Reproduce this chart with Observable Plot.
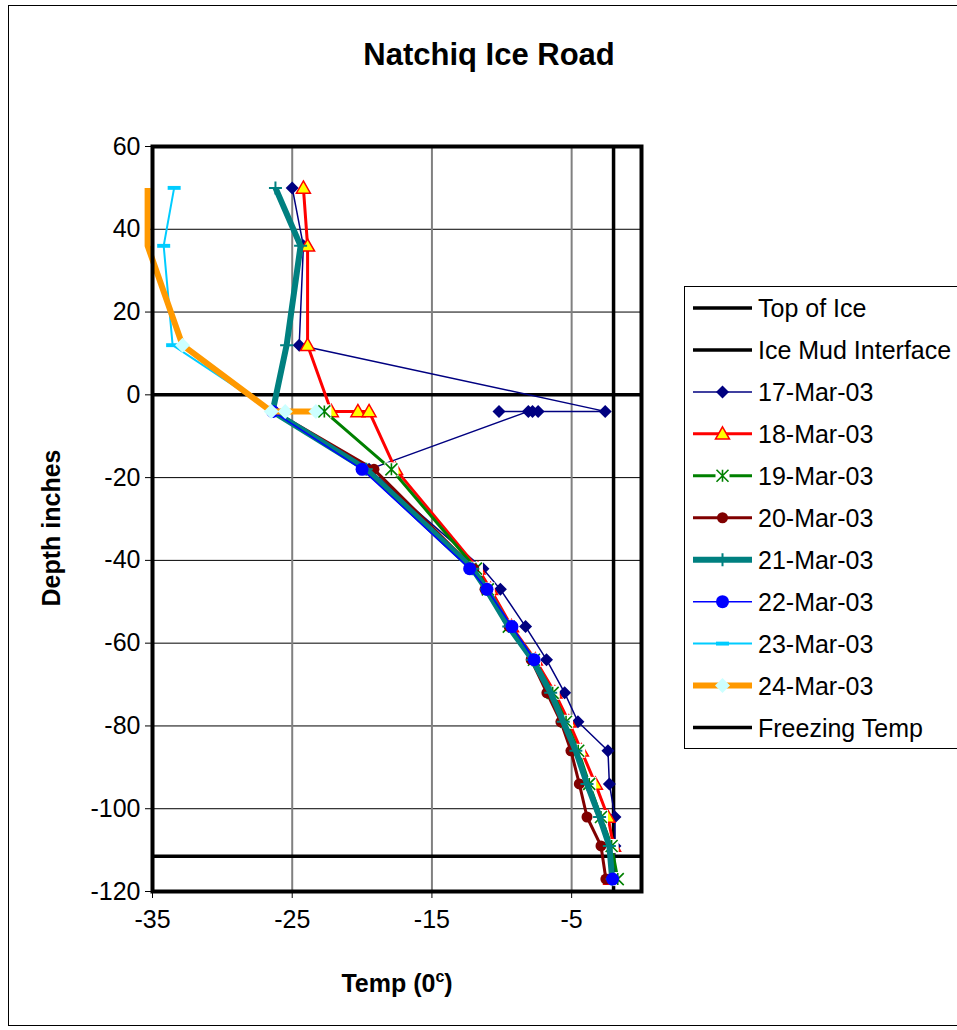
<!DOCTYPE html>
<html>
<head>
<meta charset="utf-8">
<script src="https://cdn.jsdelivr.net/npm/d3@7"></script>
<script src="https://cdn.jsdelivr.net/npm/@observablehq/plot@0.6"></script>
<style>
  body { margin: 0; background: #fff; }
  #wrap { position: relative; width: 957px; height: 1030px; overflow: hidden; background: #fff;
          font-family: Arial, "Liberation Sans", sans-serif; color: #000; }
  #outer { position: absolute; left: 8px; top: 5px; width: 1000px; height: 1021px; border: 1px solid #000; box-sizing: border-box; }
  #title { position: absolute; left: 0; width: 978px; top: 37px; text-align: center; font-weight: bold; font-size: 31px; }
  #ylab { position: absolute; left: 51px; top: 528px; transform: translate(-50%, -50%) rotate(-90deg); font-weight: bold; font-size: 25px; white-space: nowrap; }
  #xlab { position: absolute; left: 397px; top: 983px; transform: translate(-50%, -50%); font-weight: bold; font-size: 25px; white-space: nowrap; }
  #xlab sup { font-size: 16px; }
  #chart { position: absolute; left: 0; top: 0; }
  #legend { position: absolute; left: 0; top: 0; }
</style>
</head>
<body>
<div id="wrap">
  <div id="outer"></div>
  <div id="chart"></div>
  <div id="title">Natchiq Ice Road</div>
  <div id="ylab">Depth inches</div>
  <div id="xlab">Temp (0<sup>c</sup>)</div>
  <svg id="legend" width="957" height="1030"></svg>
</div>
<script>
// ---------------- data ----------------
const xTicks = [-35, -25, -15, -5];
const yTicks = [60, 40, 20, 0, -20, -40, -60, -80, -100, -120];
const gridDepths = [40, 20, -20, -40, -60, -80, -100];
const gridTemps = [-25, -15, -5];

const topOfIce = 0;            // depth, inches
const iceMudInterface = -111.5; // depth, inches
const freezingTemp = -2;       // deg C

const deep = [-18, -42, -47, -56, -64, -72, -79, -86, -94, -102, -109, -117];

const depth17 = [50, 36, 12, -4, -4, -4, -4, -4, ...deep];
const temp17  = [-25.0, -24.2, -24.5, -2.6, -7.4, -7.8, -10.2, -8.1, -19.5, -11.35, -10.1, -8.3, -6.8, -5.5, -4.55, -2.4, -2.3, -1.9, -1.9, -2.0];

const depth18 = [50, 36, 12, -4, -4, -4, ...deep];
const temp18  = [-24.2, -23.9, -23.9, -22.2, -20.3, -19.5, -17.6, -11.7, -10.8, -9.3, -7.6, -6.2, -5.2, -4.3, -3.3, -2.4, -2.0, -2.2];

const depth19 = [-4, ...deep];
const temp19  = [-22.7, -17.9, -11.85, -11.0, -9.5, -7.7, -6.36, -5.4, -4.53, -3.74, -2.9, -2.14, -1.7];

const depth20 = [-4, ...deep];
const temp20  = [-26.3, -19.15, -12.0, -11.2, -9.47, -7.9, -6.77, -5.77, -5.05, -4.45, -3.9, -2.9, -2.55];

const depth21 = [50, 36, 12, -4, ...deep];
const temp21  = [-26.2, -24.4, -25.4, -26.4, -19.7, -12.1, -11.1, -9.5, -7.8, -6.5, -5.6, -4.7, -3.9, -3.0, -2.3, -2.1];

const depth22 = [-4, ...deep];
const temp22  = [-26.4, -20.0, -12.3, -11.06, -9.27, -7.68, null, null, null, null, null, null, -2.07];

const depth23 = [50, 36, 12, -4, -4, -4];
const temp23  = [-33.45, -34.2, -33.56, -26.4, -24.2, -23.3];

const depth24 = [50, 36, 12, -4, -4, -4];
const temp24  = [-35.35, -35.35, -32.85, -26.5, -25.5, -23.3];

// ---------------- marker shapes ----------------
const sym = fn => ({ draw(c, size) { const h = Math.sqrt(size / Math.PI); fn(c, h); } });
const diamondS = sym((c, h) => { c.moveTo(0, -h); c.lineTo(h, 0); c.lineTo(0, h); c.lineTo(-h, 0); c.closePath(); });
const triS = sym((c, h) => { c.moveTo(0, -h); c.lineTo(h, h * 0.75); c.lineTo(-h, h * 0.75); c.closePath(); });
const starS = sym((c, h) => { c.moveTo(-h, -h); c.lineTo(h, h); c.moveTo(-h, h); c.lineTo(h, -h); c.moveTo(0, -h); c.lineTo(0, h); });
const plusS = sym((c, h) => { c.moveTo(-h, 0); c.lineTo(h, 0); c.moveTo(0, -h); c.lineTo(0, h); });
const dashS = sym((c, h) => { c.rect(-h, -h * 0.3, 2 * h, h * 0.6); });
const squareS = sym((c, h) => { c.rect(-h, -h, 2 * h, 2 * h); });
const circleS = sym((c, h) => { c.moveTo(h, 0); c.arc(0, 0, h, 0, 2 * Math.PI); });

const series = [
  {name: "17-Mar-03", depth: depth17, temp: temp17, color: "#000080", w: 1.5, sym: diamondS, r: 6.5, fill: "#000080", stroke: "none", sw: 0},
  {name: "18-Mar-03", depth: depth18, temp: temp18, color: "#FF0000", w: 3,   sym: triS,     r: 7,   fill: "#FFFF00", stroke: "#FF0000", sw: 1.5},
  {name: "19-Mar-03", depth: depth19, temp: temp19, color: "#008000", w: 3,   sym: starS,    r: 6,   fill: "none", stroke: "#008000", sw: 1.6, bg: 7},
  {name: "20-Mar-03", depth: depth20, temp: temp20, color: "#800000", w: 3,   sym: circleS,  r: 5.5, fill: "#800000", stroke: "none", sw: 0},
  {name: "21-Mar-03", depth: depth21, temp: temp21, color: "#008080", w: 6,   sym: plusS,    r: 6.5, fill: "none", stroke: "#008080", sw: 2},
  {name: "22-Mar-03", depth: depth22, temp: temp22, color: "#0000FF", w: 1.5, sym: circleS,  r: 6.5, fill: "#0000FF", stroke: "none", sw: 0},
  {name: "23-Mar-03", depth: depth23, temp: temp23, color: "#00CCFF", w: 2,   sym: dashS,    r: 6.5, fill: "#00CCFF", stroke: "none", sw: 0},
  {name: "24-Mar-03", depth: depth24, temp: temp24, color: "#FF9900", w: 6,   sym: diamondS, r: 7.5, fill: "#CCFFFF", stroke: "none", sw: 0}
];

// ---------------- chart ----------------
const refStyle = {stroke: "#000", strokeWidth: 3.5};
const marks = [
  Plot.gridY(gridDepths, {stroke: "#000", strokeOpacity: 1, strokeWidth: 1}),
  Plot.gridX(gridTemps, {stroke: "#808080", strokeOpacity: 1, strokeWidth: 2}),
  Plot.axisX(xTicks, {tickSize: 7, tickPadding: 12, fontSize: 25, label: null, tickFormat: d => `${d}`}),
  Plot.axisY(yTicks, {tickSize: 7, tickPadding: 5, fontSize: 25, label: null, tickFormat: d => `${d}`}),
  Plot.ruleY([topOfIce], refStyle),
  Plot.ruleY([iceMudInterface], refStyle),
  Plot.ruleX([freezingTemp], refStyle)
];

for (const s of series) {
  const data = s.depth.map((d, i) => ({d, t: s.temp[i]}));
  marks.push(Plot.line(data, {x: "t", y: "d", stroke: s.color, strokeWidth: s.w, strokeLinejoin: "round", strokeLinecap: "butt"}));
  const pts = data.filter(p => p.t != null && p.t >= -35);
  if (s.bg) marks.push(Plot.dot(pts, {x: "t", y: "d", symbol: squareS, r: s.bg, fill: "#fff", stroke: "none"}));
  marks.push(Plot.dot(pts, {x: "t", y: "d", symbol: s.sym, r: s.r, fill: s.fill, stroke: s.stroke, strokeWidth: s.sw}));
}
marks.push(Plot.frame({stroke: "#000", strokeWidth: 4}));

const chart = Plot.plot({
  width: 957,
  height: 1030,
  marginLeft: 152,
  marginRight: 316,
  marginTop: 146,
  marginBottom: 139,
  x: {domain: [-35, 0]},
  y: {domain: [-120, 60]},
  style: {fontFamily: "Arial, 'Liberation Sans', sans-serif", fontSize: "25px", color: "#000", background: "transparent", overflow: "visible"},
  marks
});
document.getElementById("chart").appendChild(chart);

// ---------------- legend ----------------
const lg = d3.select("#legend");
lg.append("rect").attr("x", 684.5).attr("y", 286.5).attr("width", 400).attr("height", 462)
  .attr("fill", "#fff").attr("stroke", "#000").attr("stroke-width", 1);
const entries = [
  {name: "Top of Ice", color: "#000", w: 3.5},
  {name: "Ice Mud Interface", color: "#000", w: 3.5},
  ...series,
  {name: "Freezing Temp", color: "#000", w: 3.5}
];
entries.forEach((e, i) => {
  const cy = 308 + i * 41.95;
  const g = lg.append("g");
  g.append("line").attr("x1", 693).attr("x2", 752).attr("y1", cy).attr("y2", cy)
    .attr("stroke", e.color).attr("stroke-width", e.w);
  if (e.sym) {
    if (e.bg) g.append("path").attr("transform", `translate(722.5,${cy})`)
      .attr("d", d3.symbol().type(squareS).size(Math.PI * e.bg * e.bg)()).attr("fill", "#fff");
    g.append("path").attr("transform", `translate(722.5,${cy})`)
      .attr("d", d3.symbol().type(e.sym).size(Math.PI * e.r * e.r)())
      .attr("fill", e.fill).attr("stroke", e.stroke).attr("stroke-width", e.sw);
  }
  g.append("text").attr("x", 758).attr("y", cy).attr("dy", "0.36em")
    .attr("font-family", "Arial, 'Liberation Sans', sans-serif").attr("font-size", 25).attr("fill", "#000")
    .text(e.name);
});
</script>
</body>
</html>
